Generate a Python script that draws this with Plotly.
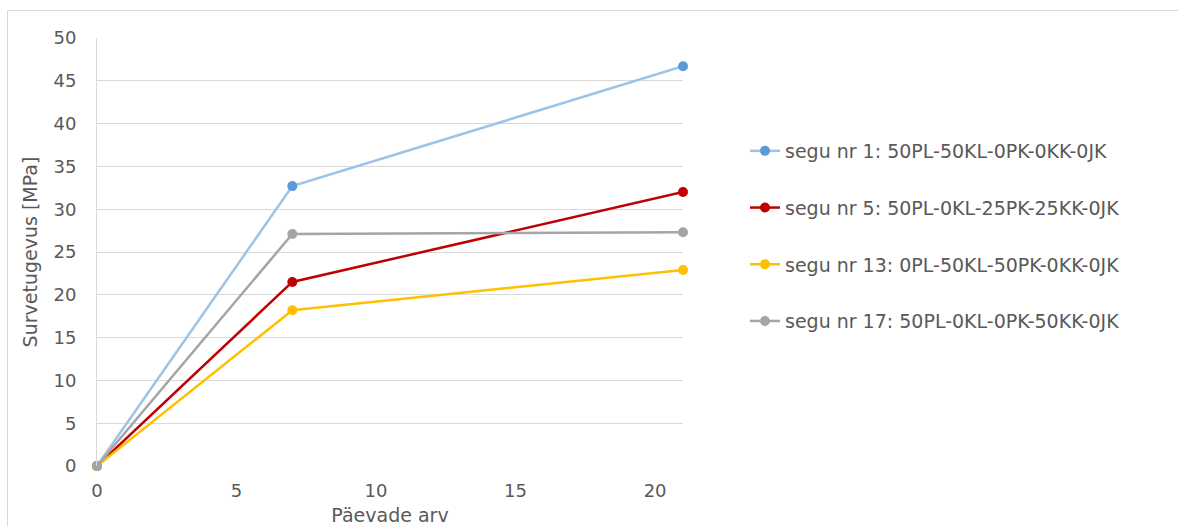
import plotly.graph_objects as go

# Days of curing and compressive strength per mix
days = [0, 7, 21]
names = [
    "segu nr 1: 50PL-50KL-0PK-0KK-0JK",
    "segu nr 5: 50PL-0KL-25PK-25KK-0JK",
    "segu nr 13: 0PL-50KL-50PK-0KK-0JK",
    "segu nr 17: 50PL-0KL-0PK-50KK-0JK",
]
strength_1 = [0, 32.7, 46.7]
strength_5 = [0, 21.5, 32.0]
strength_13 = [0, 18.2, 22.9]
strength_17 = [0, 27.1, 27.3]

line_colors = ["#9dc3e6", "#c00000", "#ffc000", "#a5a5a5"]
marker_colors = ["#5b9bd5", "#c00000", "#ffc000", "#a5a5a5"]

W, H = 1178, 526
L, R, T, B = 97, 495, 38, 60
PW, PH = W - L - R, H - T - B


def px(x):
    return (x - L) / PW


def py(y):
    return (H - B - y) / PH


fig = go.Figure()
for i, (name, vals) in enumerate(zip(names, [strength_1, strength_5, strength_13, strength_17])):
    fig.add_trace(go.Scatter(
        x=days, y=vals, name=name, mode="lines+markers",
        line=dict(color=line_colors[i], width=2.5),
        marker=dict(color=marker_colors[i], size=10),
        legendgroup=f"g{i}",
        cliponaxis=False,
    ))

family = "DejaVu Sans, Verdana, sans-serif"
tick_font = dict(family=family, size=18, color="#595959")
title_font = dict(family=family, size=19, color="#595959")
legend_font = dict(family=family, size=19, color="#595959")

fig.update_layout(
    width=W, height=H,
    margin=dict(l=L, r=R, t=T, b=B),
    paper_bgcolor="white", plot_bgcolor="white",
    font=tick_font,
    showlegend=True,
    legend=dict(
        x=px(745), y=py(132), xanchor="left", yanchor="top",
        tracegroupgap=29, font=legend_font, bgcolor="rgba(0,0,0,0)",
    ),
    xaxis=dict(
        range=[0, 21], dtick=5, tick0=0, showgrid=False, zeroline=False,
        showline=False, ticks="", ticklabelstandoff=12, automargin=False,
        tickfont=tick_font,
        title=dict(text="Päevade arv", font=title_font, standoff=12),
    ),
    yaxis=dict(
        range=[0, 50], dtick=5, tick0=0, showgrid=True, gridcolor="#d9d9d9",
        gridwidth=1, zeroline=False, showline=True, linecolor="#d9d9d9",
        linewidth=1, ticks="", ticklabelstandoff=16, automargin=False,
        tickfont=tick_font,
        title=dict(text="Survetugevus [MPa]", font=title_font, standoff=10),
    ),
    shapes=[
        dict(type="rect", xref="paper", yref="paper",
             x0=px(7.5), x1=px(1190), y0=py(545), y1=py(10.5),
             line=dict(color="#d9d9d9", width=1), layer="below"),
    ],
)

fig.write_html("out.html")
